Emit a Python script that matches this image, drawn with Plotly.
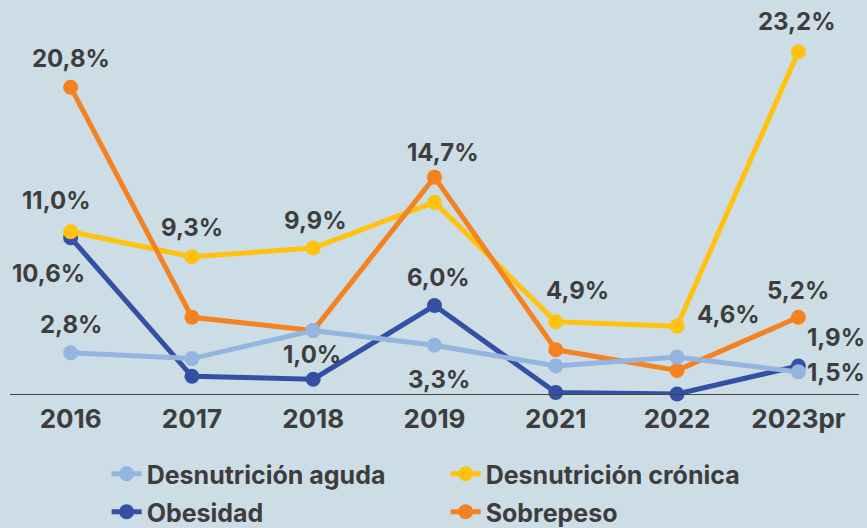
import plotly.graph_objects as go

years = ["2016", "2017", "2018", "2019", "2021", "2022", "2023pr"]

aguda = [2.8, 2.4, 4.3, 3.3, 1.9, 2.5, 1.5]
cronica = [11.0, 9.3, 9.9, 13.0, 4.9, 4.6, 23.2]
obesidad = [10.6, 1.2, 1.0, 6.0, 0.1, 0.0, 1.9]
sobrepeso = [20.8, 5.2, 4.3, 14.7, 3.0, 1.6, 5.2]

aguda_lbl = ["2,8%", None, None, "3,3%", None, None, "1,5%"]
cronica_lbl = ["11,0%", "9,3%", "9,9%", None, "4,9%", "4,6%", "23,2%"]
obesidad_lbl = ["10,6%", None, "1,0%", "6,0%", None, None, "1,9%"]
sobrepeso_lbl = ["20,8%", None, None, "14,7%", None, None, "5,2%"]

# label offsets in pixels (dx, dy) relative to the point
aguda_off = [(0, -28), None, None, (4, 34), None, None, (38, 1)]
cronica_off = [(-14, -31), (0, -29), (2, -27), None, (22, -31), (51, -12), (-1, -30)]
obesidad_off = [(-22, 36), None, (-1, -25), (4, -28), None, None, (38, -28)]
sobrepeso_off = [(0, -29), None, None, (8, -25), None, None, (0, -27)]

FONT = "Inter, Roboto, sans-serif"
TXT = "#3d3d3d"
BG = "#cddde5"

series = [
    # name, values, color, legend, rank
    ("Obesidad", obesidad, "#3450a5", "legend2", 1),
    ("Desnutrición crónica", cronica, "#ffc20e", "legend", 2),
    ("Sobrepeso", sobrepeso, "#f58220", "legend2", 2),
    ("Desnutrición aguda", aguda, "#94b5e0", "legend", 1),
]

fig = go.Figure()
for name, vals, col, leg, rank in series:
    fig.add_trace(go.Scatter(
        x=years, y=vals, name=name, mode="lines+markers",
        line=dict(color=col, width=5),
        marker=dict(color=col, size=15),
        cliponaxis=False, legend=leg, legendrank=rank,
    ))

annos = []
for vals, lbls, offs in [(aguda, aguda_lbl, aguda_off), (cronica, cronica_lbl, cronica_off),
                         (obesidad, obesidad_lbl, obesidad_off), (sobrepeso, sobrepeso_lbl, sobrepeso_off)]:
    for i, (v, t, o) in enumerate(zip(vals, lbls, offs)):
        if t is None:
            continue
        annos.append(dict(x=i, y=v, text=t, showarrow=False,
                          xshift=o[0], yshift=-o[1],
                          font=dict(family=FONT, size=24, color=TXT, weight="bold")))

LEGFONT = dict(family=FONT, size=25, color=TXT, weight="bold")

fig.update_layout(
    width=867, height=528,
    paper_bgcolor=BG, plot_bgcolor=BG,
    margin=dict(l=10, r=8, t=18, b=134),
    showlegend=True,
    annotations=annos,
    xaxis=dict(type="category", range=[-0.5, 6.5], showgrid=False, zeroline=False,
               showline=True, linecolor="#444444", linewidth=1.2, ticks="",
               ticklabelstandoff=2,
               tickfont=dict(family=FONT, size=26, color=TXT, weight="bold"),
               fixedrange=True),
    yaxis=dict(range=[0, 25.49], showgrid=False, zeroline=False, showticklabels=False,
               showline=False, fixedrange=True),
    legend=dict(orientation="h", xref="container", yref="container",
                x=0.123, y=1 - 474 / 528, xanchor="left", yanchor="middle",
                entrywidth=294, entrywidthmode="pixels", bgcolor="rgba(0,0,0,0)",
                font=LEGFONT),
    legend2=dict(orientation="h", xref="container", yref="container",
                 x=0.123, y=1 - 512 / 528, xanchor="left", yanchor="middle",
                 entrywidth=294, entrywidthmode="pixels", bgcolor="rgba(0,0,0,0)",
                 font=LEGFONT),
)

fig.write_html("out.html", config={"displayModeBar": False},
               post_script="document.body.style.margin='0';document.body.style.overflow='hidden';")
